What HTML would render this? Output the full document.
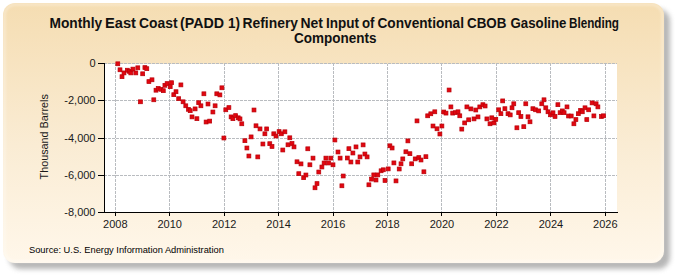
<!DOCTYPE html>
<html><head><meta charset="utf-8"><style>
html,body{margin:0;padding:0;background:#fff;width:675px;height:275px;overflow:hidden}
svg{display:block}
</style></head><body>
<svg width="675" height="275" viewBox="0 0 675 275">
<defs>
<linearGradient id="bg" x1="0" y1="0" x2="0" y2="1">
<stop offset="0" stop-color="#f5ddb2"/>
<stop offset="0.55" stop-color="#faecd4"/>
<stop offset="1" stop-color="#fff7ea"/>
</linearGradient>
<filter id="sh" x="-10%" y="-10%" width="120%" height="120%"><feGaussianBlur stdDeviation="2.4"/></filter>
<filter id="pb" x="-5%" y="-5%" width="110%" height="110%"><feGaussianBlur stdDeviation="0.6"/></filter>
<filter id="hb" x="-5%" y="-5%" width="110%" height="110%"><feGaussianBlur stdDeviation="1"/></filter>
</defs>
<rect width="675" height="275" fill="#ffffff"/>
<rect x="9" y="9" width="661" height="260" rx="12" ry="12" fill="#8a8a8a" filter="url(#sh)" opacity="0.62"/>
<rect x="3" y="3" width="661" height="260" rx="12" ry="12" fill="url(#bg)" filter="url(#pb)"/>
<rect x="4.5" y="4.5" width="658" height="257" rx="11" ry="11" fill="none" stroke="#ffffff" stroke-opacity="0.3" stroke-width="2.5" filter="url(#hb)"/>
<rect x="105" y="64" width="512" height="148" fill="#ffffff"/>
<g stroke="#b9bcc0" stroke-width="1" stroke-dasharray="3 1" stroke-dashoffset="1" shape-rendering="crispEdges"><line x1="105" y1="63.5" x2="617" y2="63.5"/><line x1="105" y1="100.5" x2="617" y2="100.5"/><line x1="105" y1="138.5" x2="617" y2="138.5"/><line x1="105" y1="175.5" x2="617" y2="175.5"/><line x1="105" y1="212.5" x2="617" y2="212.5"/><line x1="115.5" y1="64" x2="115.5" y2="212"/><line x1="169.5" y1="64" x2="169.5" y2="212"/><line x1="224.5" y1="64" x2="224.5" y2="212"/><line x1="278.5" y1="64" x2="278.5" y2="212"/><line x1="333.5" y1="64" x2="333.5" y2="212"/><line x1="387.5" y1="64" x2="387.5" y2="212"/><line x1="441.5" y1="64" x2="441.5" y2="212"/><line x1="496.5" y1="64" x2="496.5" y2="212"/><line x1="550.5" y1="64" x2="550.5" y2="212"/><line x1="605.5" y1="64" x2="605.5" y2="212"/></g>
<g fill="#e2060f" stroke="#b80008" stroke-width="0.7"><rect x="115.85" y="61.85" width="3.9" height="3.9"/><rect x="118.05" y="67.85" width="3.9" height="3.9"/><rect x="120.05" y="74.75" width="3.9" height="3.9"/><rect x="122.05" y="70.95" width="3.9" height="3.9"/><rect x="125.35" y="68.25" width="3.9" height="3.9"/><rect x="127.35" y="69.35" width="3.9" height="3.9"/><rect x="128.85" y="70.95" width="3.9" height="3.9"/><rect x="130.95" y="67.15" width="3.9" height="3.9"/><rect x="133.85" y="70.95" width="3.9" height="3.9"/><rect x="135.85" y="65.85" width="3.9" height="3.9"/><rect x="140.75" y="71.85" width="3.9" height="3.9"/><rect x="142.95" y="65.65" width="3.9" height="3.9"/><rect x="144.85" y="66.75" width="3.9" height="3.9"/><rect x="138.45" y="99.85" width="3.9" height="3.9"/><rect x="146.95" y="79.65" width="3.9" height="3.9"/><rect x="150.05" y="77.85" width="3.9" height="3.9"/><rect x="151.85" y="97.85" width="3.9" height="3.9"/><rect x="154.05" y="88.25" width="3.9" height="3.9"/><rect x="156.25" y="86.45" width="3.9" height="3.9"/><rect x="158.95" y="87.35" width="3.9" height="3.9"/><rect x="161.35" y="88.75" width="3.9" height="3.9"/><rect x="162.95" y="83.35" width="3.9" height="3.9"/><rect x="165.15" y="81.65" width="3.9" height="3.9"/><rect x="168.25" y="84.75" width="3.9" height="3.9"/><rect x="169.65" y="80.75" width="3.9" height="3.9"/><rect x="171.85" y="92.75" width="3.9" height="3.9"/><rect x="174.05" y="89.75" width="3.9" height="3.9"/><rect x="178.95" y="82.95" width="3.9" height="3.9"/><rect x="176.75" y="96.75" width="3.9" height="3.9"/><rect x="181.15" y="99.85" width="3.9" height="3.9"/><rect x="183.85" y="103.85" width="3.9" height="3.9"/><rect x="186.45" y="107.35" width="3.9" height="3.9"/><rect x="188.25" y="108.75" width="3.9" height="3.9"/><rect x="190.05" y="114.95" width="3.9" height="3.9"/><rect x="193.15" y="106.95" width="3.9" height="3.9"/><rect x="194.95" y="116.75" width="3.9" height="3.9"/><rect x="196.75" y="100.75" width="3.9" height="3.9"/><rect x="198.95" y="103.85" width="3.9" height="3.9"/><rect x="201.95" y="91.85" width="3.9" height="3.9"/><rect x="204.15" y="120.05" width="3.9" height="3.9"/><rect x="206.05" y="102.05" width="3.9" height="3.9"/><rect x="207.75" y="119.15" width="3.9" height="3.9"/><rect x="210.95" y="110.05" width="3.9" height="3.9"/><rect x="213.15" y="103.85" width="3.9" height="3.9"/><rect x="214.85" y="91.85" width="3.9" height="3.9"/><rect x="217.95" y="92.95" width="3.9" height="3.9"/><rect x="219.95" y="85.85" width="3.9" height="3.9"/><rect x="221.95" y="136.05" width="3.9" height="3.9"/><rect x="223.85" y="107.85" width="3.9" height="3.9"/><rect x="226.95" y="105.65" width="3.9" height="3.9"/><rect x="229.15" y="114.95" width="3.9" height="3.9"/><rect x="230.95" y="116.75" width="3.9" height="3.9"/><rect x="233.65" y="113.65" width="3.9" height="3.9"/><rect x="236.25" y="115.85" width="3.9" height="3.9"/><rect x="238.05" y="116.95" width="3.9" height="3.9"/><rect x="239.85" y="121.85" width="3.9" height="3.9"/><rect x="242.95" y="138.75" width="3.9" height="3.9"/><rect x="244.95" y="146.05" width="3.9" height="3.9"/><rect x="246.95" y="154.05" width="3.9" height="3.9"/><rect x="249.15" y="134.95" width="3.9" height="3.9"/><rect x="252.05" y="108.05" width="3.9" height="3.9"/><rect x="254.05" y="123.85" width="3.9" height="3.9"/><rect x="255.85" y="154.95" width="3.9" height="3.9"/><rect x="258.05" y="126.95" width="3.9" height="3.9"/><rect x="260.95" y="142.05" width="3.9" height="3.9"/><rect x="262.95" y="131.85" width="3.9" height="3.9"/><rect x="264.75" y="126.95" width="3.9" height="3.9"/><rect x="267.85" y="141.75" width="3.9" height="3.9"/><rect x="270.05" y="144.55" width="3.9" height="3.9"/><rect x="271.85" y="131.85" width="3.9" height="3.9"/><rect x="274.05" y="134.05" width="3.9" height="3.9"/><rect x="277.15" y="129.65" width="3.9" height="3.9"/><rect x="279.35" y="131.85" width="3.9" height="3.9"/><rect x="280.85" y="148.05" width="3.9" height="3.9"/><rect x="282.95" y="129.85" width="3.9" height="3.9"/><rect x="286.05" y="142.85" width="3.9" height="3.9"/><rect x="287.85" y="135.85" width="3.9" height="3.9"/><rect x="290.05" y="141.55" width="3.9" height="3.9"/><rect x="292.05" y="144.95" width="3.9" height="3.9"/><rect x="295.05" y="159.85" width="3.9" height="3.9"/><rect x="296.85" y="171.75" width="3.9" height="3.9"/><rect x="299.05" y="161.95" width="3.9" height="3.9"/><rect x="301.75" y="175.75" width="3.9" height="3.9"/><rect x="303.95" y="173.05" width="3.9" height="3.9"/><rect x="305.85" y="146.85" width="3.9" height="3.9"/><rect x="307.95" y="162.85" width="3.9" height="3.9"/><rect x="311.05" y="156.15" width="3.9" height="3.9"/><rect x="313.05" y="185.85" width="3.9" height="3.9"/><rect x="315.05" y="181.65" width="3.9" height="3.9"/><rect x="316.85" y="170.05" width="3.9" height="3.9"/><rect x="319.95" y="165.05" width="3.9" height="3.9"/><rect x="322.15" y="161.05" width="3.9" height="3.9"/><rect x="323.95" y="156.15" width="3.9" height="3.9"/><rect x="326.65" y="161.05" width="3.9" height="3.9"/><rect x="328.85" y="156.15" width="3.9" height="3.9"/><rect x="331.05" y="162.85" width="3.9" height="3.9"/><rect x="332.95" y="138.05" width="3.9" height="3.9"/><rect x="336.05" y="150.05" width="3.9" height="3.9"/><rect x="338.15" y="156.15" width="3.9" height="3.9"/><rect x="339.95" y="183.85" width="3.9" height="3.9"/><rect x="341.25" y="174.05" width="3.9" height="3.9"/><rect x="345.35" y="156.05" width="3.9" height="3.9"/><rect x="346.95" y="146.75" width="3.9" height="3.9"/><rect x="348.95" y="160.05" width="3.9" height="3.9"/><rect x="350.95" y="151.05" width="3.9" height="3.9"/><rect x="354.05" y="144.95" width="3.9" height="3.9"/><rect x="355.85" y="160.05" width="3.9" height="3.9"/><rect x="358.05" y="154.95" width="3.9" height="3.9"/><rect x="361.15" y="142.95" width="3.9" height="3.9"/><rect x="362.95" y="152.05" width="3.9" height="3.9"/><rect x="365.15" y="154.95" width="3.9" height="3.9"/><rect x="366.95" y="182.85" width="3.9" height="3.9"/><rect x="369.65" y="177.15" width="3.9" height="3.9"/><rect x="371.85" y="172.95" width="3.9" height="3.9"/><rect x="374.05" y="178.05" width="3.9" height="3.9"/><rect x="375.85" y="172.95" width="3.9" height="3.9"/><rect x="379.15" y="168.85" width="3.9" height="3.9"/><rect x="381.35" y="167.85" width="3.9" height="3.9"/><rect x="383.05" y="178.55" width="3.9" height="3.9"/><rect x="386.25" y="166.95" width="3.9" height="3.9"/><rect x="387.95" y="143.85" width="3.9" height="3.9"/><rect x="390.15" y="146.05" width="3.9" height="3.9"/><rect x="391.95" y="160.95" width="3.9" height="3.9"/><rect x="394.05" y="178.95" width="3.9" height="3.9"/><rect x="397.25" y="167.05" width="3.9" height="3.9"/><rect x="399.05" y="161.85" width="3.9" height="3.9"/><rect x="400.85" y="156.95" width="3.9" height="3.9"/><rect x="403.95" y="149.85" width="3.9" height="3.9"/><rect x="405.95" y="138.95" width="3.9" height="3.9"/><rect x="407.95" y="151.75" width="3.9" height="3.9"/><rect x="409.75" y="161.85" width="3.9" height="3.9"/><rect x="413.25" y="156.95" width="3.9" height="3.9"/><rect x="415.05" y="118.95" width="3.9" height="3.9"/><rect x="416.85" y="155.65" width="3.9" height="3.9"/><rect x="419.05" y="158.05" width="3.9" height="3.9"/><rect x="421.95" y="169.85" width="3.9" height="3.9"/><rect x="423.95" y="154.75" width="3.9" height="3.9"/><rect x="425.75" y="113.85" width="3.9" height="3.9"/><rect x="428.85" y="111.85" width="3.9" height="3.9"/><rect x="431.05" y="124.05" width="3.9" height="3.9"/><rect x="432.85" y="109.85" width="3.9" height="3.9"/><rect x="435.05" y="126.85" width="3.9" height="3.9"/><rect x="437.95" y="132.05" width="3.9" height="3.9"/><rect x="439.95" y="124.05" width="3.9" height="3.9"/><rect x="441.75" y="110.05" width="3.9" height="3.9"/><rect x="444.05" y="111.15" width="3.9" height="3.9"/><rect x="447.15" y="88.05" width="3.9" height="3.9"/><rect x="448.95" y="104.95" width="3.9" height="3.9"/><rect x="450.75" y="111.15" width="3.9" height="3.9"/><rect x="453.35" y="110.75" width="3.9" height="3.9"/><rect x="456.05" y="109.85" width="3.9" height="3.9"/><rect x="457.85" y="113.85" width="3.9" height="3.9"/><rect x="459.85" y="127.15" width="3.9" height="3.9"/><rect x="462.75" y="120.95" width="3.9" height="3.9"/><rect x="464.95" y="104.95" width="3.9" height="3.9"/><rect x="466.75" y="117.85" width="3.9" height="3.9"/><rect x="468.95" y="106.95" width="3.9" height="3.9"/><rect x="472.05" y="116.95" width="3.9" height="3.9"/><rect x="473.85" y="108.05" width="3.9" height="3.9"/><rect x="476.05" y="114.95" width="3.9" height="3.9"/><rect x="477.85" y="104.95" width="3.9" height="3.9"/><rect x="480.95" y="102.75" width="3.9" height="3.9"/><rect x="483.15" y="104.05" width="3.9" height="3.9"/><rect x="484.95" y="116.95" width="3.9" height="3.9"/><rect x="488.05" y="121.85" width="3.9" height="3.9"/><rect x="489.85" y="115.85" width="3.9" height="3.9"/><rect x="492.05" y="120.95" width="3.9" height="3.9"/><rect x="493.85" y="117.35" width="3.9" height="3.9"/><rect x="496.75" y="107.85" width="3.9" height="3.9"/><rect x="498.95" y="111.75" width="3.9" height="3.9"/><rect x="500.75" y="98.95" width="3.9" height="3.9"/><rect x="502.95" y="106.75" width="3.9" height="3.9"/><rect x="506.05" y="111.75" width="3.9" height="3.9"/><rect x="508.25" y="112.95" width="3.9" height="3.9"/><rect x="510.05" y="105.85" width="3.9" height="3.9"/><rect x="511.85" y="101.85" width="3.9" height="3.9"/><rect x="514.95" y="125.85" width="3.9" height="3.9"/><rect x="516.75" y="110.75" width="3.9" height="3.9"/><rect x="518.95" y="114.55" width="3.9" height="3.9"/><rect x="521.85" y="124.75" width="3.9" height="3.9"/><rect x="523.85" y="101.85" width="3.9" height="3.9"/><rect x="526.05" y="114.85" width="3.9" height="3.9"/><rect x="528.05" y="119.85" width="3.9" height="3.9"/><rect x="530.95" y="106.75" width="3.9" height="3.9"/><rect x="533.65" y="107.85" width="3.9" height="3.9"/><rect x="536.75" y="108.95" width="3.9" height="3.9"/><rect x="539.85" y="101.85" width="3.9" height="3.9"/><rect x="542.05" y="97.85" width="3.9" height="3.9"/><rect x="543.85" y="105.85" width="3.9" height="3.9"/><rect x="546.05" y="109.85" width="3.9" height="3.9"/><rect x="548.55" y="112.85" width="3.9" height="3.9"/><rect x="551.05" y="110.85" width="3.9" height="3.9"/><rect x="553.05" y="114.55" width="3.9" height="3.9"/><rect x="555.95" y="102.75" width="3.9" height="3.9"/><rect x="558.15" y="110.75" width="3.9" height="3.9"/><rect x="560.35" y="108.95" width="3.9" height="3.9"/><rect x="562.15" y="110.75" width="3.9" height="3.9"/><rect x="565.05" y="104.95" width="3.9" height="3.9"/><rect x="566.65" y="114.05" width="3.9" height="3.9"/><rect x="569.25" y="114.05" width="3.9" height="3.9"/><rect x="571.95" y="121.85" width="3.9" height="3.9"/><rect x="573.95" y="117.65" width="3.9" height="3.9"/><rect x="576.35" y="111.75" width="3.9" height="3.9"/><rect x="578.65" y="108.35" width="3.9" height="3.9"/><rect x="580.35" y="109.85" width="3.9" height="3.9"/><rect x="583.05" y="105.85" width="3.9" height="3.9"/><rect x="584.85" y="117.65" width="3.9" height="3.9"/><rect x="586.75" y="107.85" width="3.9" height="3.9"/><rect x="590.15" y="100.95" width="3.9" height="3.9"/><rect x="591.95" y="113.95" width="3.9" height="3.9"/><rect x="594.15" y="101.85" width="3.9" height="3.9"/><rect x="595.95" y="104.95" width="3.9" height="3.9"/><rect x="599.55" y="114.55" width="3.9" height="3.9"/><rect x="601.55" y="113.85" width="3.9" height="3.9"/></g>
<g stroke="#000" stroke-width="1" shape-rendering="crispEdges">
<line x1="104.5" y1="63" x2="104.5" y2="213"/>
<line x1="98" y1="212.5" x2="618" y2="212.5"/>
<line x1="98" y1="63.5" x2="105" y2="63.5"/>
<line x1="98" y1="100.5" x2="105" y2="100.5"/>
<line x1="98" y1="138.5" x2="105" y2="138.5"/>
<line x1="98" y1="175.5" x2="105" y2="175.5"/>
<line x1="98" y1="212.5" x2="105" y2="212.5"/>
<line x1="115.5" y1="212" x2="115.5" y2="216"/>
<line x1="169.5" y1="212" x2="169.5" y2="216"/>
<line x1="224.5" y1="212" x2="224.5" y2="216"/>
<line x1="278.5" y1="212" x2="278.5" y2="216"/>
<line x1="333.5" y1="212" x2="333.5" y2="216"/>
<line x1="387.5" y1="212" x2="387.5" y2="216"/>
<line x1="441.5" y1="212" x2="441.5" y2="216"/>
<line x1="496.5" y1="212" x2="496.5" y2="216"/>
<line x1="550.5" y1="212" x2="550.5" y2="216"/>
<line x1="605.5" y1="212" x2="605.5" y2="216"/>
</g>
<g font-family="Liberation Sans" font-size="11" fill="#1a1a1a"><text x="95.5" y="67.00" text-anchor="end">0</text><text x="95.5" y="104.25" text-anchor="end">-2,000</text><text x="95.5" y="141.50" text-anchor="end">-4,000</text><text x="95.5" y="178.75" text-anchor="end">-6,000</text><text x="95.5" y="216.00" text-anchor="end">-8,000</text><text x="115.3" y="227.8" text-anchor="middle">2008</text><text x="169.7" y="227.8" text-anchor="middle">2010</text><text x="224.2" y="227.8" text-anchor="middle">2012</text><text x="278.6" y="227.8" text-anchor="middle">2014</text><text x="333.1" y="227.8" text-anchor="middle">2016</text><text x="387.5" y="227.8" text-anchor="middle">2018</text><text x="442.0" y="227.8" text-anchor="middle">2020</text><text x="496.4" y="227.8" text-anchor="middle">2022</text><text x="550.9" y="227.8" text-anchor="middle">2024</text><text x="605.3" y="227.8" text-anchor="middle">2026</text></g>
<text transform="translate(48,136.8) rotate(-90)" font-family="Liberation Sans" font-size="10.8" fill="#1a1a1a" text-anchor="middle">Thousand Barrels</text>
<g font-family="Liberation Sans" font-weight="bold" font-size="14.2" fill="#111" lengthAdjust="spacingAndGlyphs">
<text x="49.50" y="28" textLength="52.75" lengthAdjust="spacingAndGlyphs">Monthly</text>
<text x="105.00" y="28" textLength="31.00" lengthAdjust="spacingAndGlyphs">East</text>
<text x="139.00" y="28" textLength="38.50" lengthAdjust="spacingAndGlyphs">Coast</text>
<text x="180.00" y="28" textLength="44.00" lengthAdjust="spacingAndGlyphs">(PADD</text>
<text x="228.00" y="28" textLength="12.00" lengthAdjust="spacingAndGlyphs">1)</text>
<text x="242.50" y="28" textLength="55.50" lengthAdjust="spacingAndGlyphs">Refinery</text>
<text x="300.50" y="28" textLength="22.50" lengthAdjust="spacingAndGlyphs">Net</text>
<text x="326.00" y="28" textLength="33.00" lengthAdjust="spacingAndGlyphs">Input</text>
<text x="362.00" y="28" textLength="12.50" lengthAdjust="spacingAndGlyphs">of</text>
<text x="377.50" y="28" textLength="86.50" lengthAdjust="spacingAndGlyphs">Conventional</text>
<text x="467.00" y="28" textLength="39.50" lengthAdjust="spacingAndGlyphs">CBOB</text>
<text x="510.50" y="28" textLength="56.00" lengthAdjust="spacingAndGlyphs">Gasoline</text>
<text x="569.00" y="28" textLength="50.00" lengthAdjust="spacingAndGlyphs">Blending</text>
<text x="294.00" y="42.5" textLength="82.50" lengthAdjust="spacingAndGlyphs">Components</text>
</g>
<text x="29" y="252.8" font-family="Liberation Sans" font-size="9.3" fill="#000">Source: U.S. Energy Information Administration</text>
</svg>
</body></html>
